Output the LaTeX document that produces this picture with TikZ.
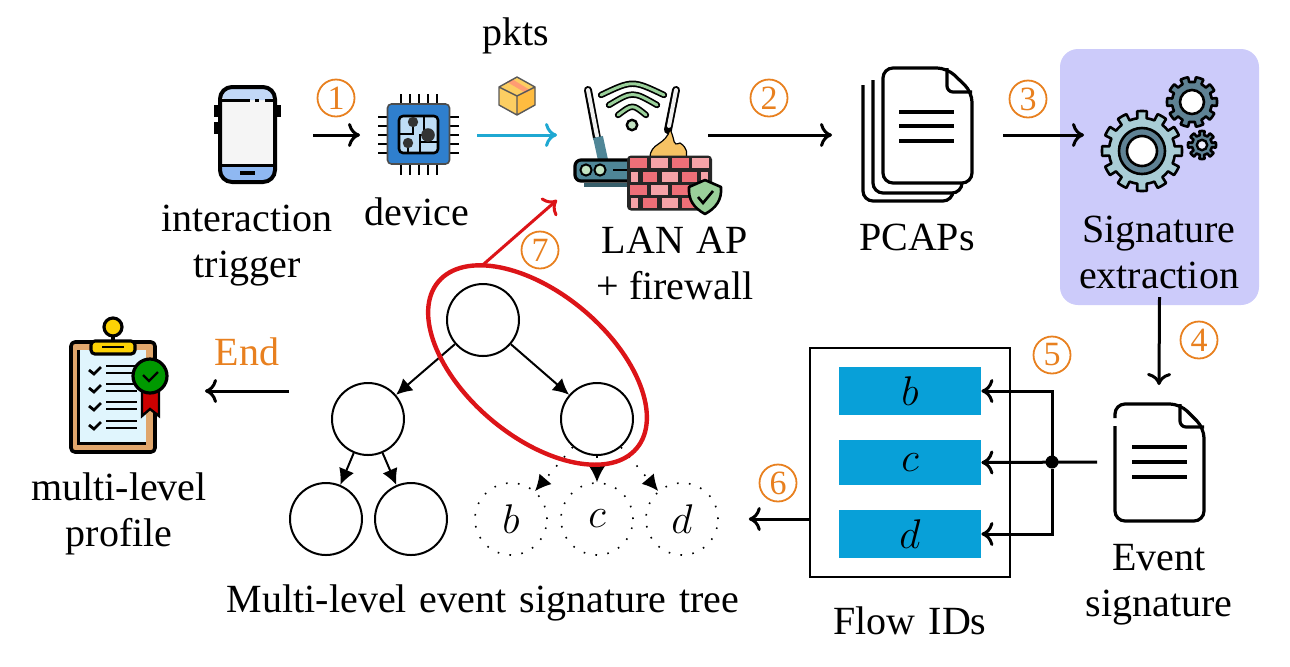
\documentclass[tikz,border=0pt]{standalone}
\usepackage{fontspec}
\setmainfont{Liberation Serif}
\usetikzlibrary{arrows.meta,shapes.geometric}
\definecolor{stepor}{HTML}{E8801F}
\definecolor{pktblue}{HTML}{1FA8D2}
\definecolor{barblue}{HTML}{08A0D8}
\definecolor{lilac}{HTML}{CCCBFA}
\definecolor{hopred}{HTML}{DC1418}
\definecolor{teal}{HTML}{4F8697}
\definecolor{gearpale}{HTML}{A9CDD6}
\definecolor{geardark}{HTML}{5F8294}
\definecolor{phonetop}{HTML}{C2D8F7}
\definecolor{phonelow}{HTML}{8FB8F2}
\definecolor{chipblue}{HTML}{2F7FCE}
\definecolor{chiplite}{HTML}{BFDDF5}
\definecolor{brickred}{HTML}{EE6F78}
\definecolor{brickpink}{HTML}{F5A3A8}
\definecolor{wifigreen}{HTML}{9AD09A}
\definecolor{flame}{HTML}{F6C264}
\begin{document}
\begin{tikzpicture}[x=0.5pt,y=-0.5pt,
    lbl/.style={font=\fontsize{20}{23}\selectfont,align=center,inner sep=0pt},
    num/.style={circle,draw=stepor,text=stepor,line width=0.9pt,minimum size=18.5pt,inner sep=0pt,font=\fontsize{17}{17}\selectfont},
    flow/.style={line width=1.5pt,-{Computer Modern Rightarrow[length=6pt,width=12pt]}},
    tree/.style={circle,draw,line width=1pt,minimum size=36pt,inner sep=0pt},
    sparse/.style={circle,draw,line width=0.8pt,dash pattern=on 0.8pt off 5.2pt,minimum size=36pt,inner sep=0pt,font=\fontsize{22}{22}\selectfont},
    edge/.style={line width=1pt,-{Latex[length=8pt,width=8pt]}},
    bar/.style={fill=barblue,minimum width=71pt,inner sep=0pt,font=\fontsize{22}{22}\selectfont},
    icon/.style={line width=1.6pt,line join=round},
    blank/.style={inner sep=0pt,outer sep=0pt}]
  \useasboundingbox (0,0) rectangle (1290,666);
  % signature box goes first, it lies below the gears
  \node[fill=lilac,rounded corners=9pt,minimum width=99.5pt,minimum height=128pt,blank] (sigbox) at (1159.5,177) {};

  % phone
  \fill[gray!8,rounded corners=4pt] (220,88) rectangle (275,182);
  \fill[phonetop,rounded corners=4pt] (220,88) rectangle (275,100);
  \fill[phonelow,rounded corners=4pt] (220,165) rectangle (275,182);
  \draw[line width=3pt] (217,105) -- (217,117) (217,122) -- (217,134) (278,105) -- (278,117);
  \draw[line width=2pt,rounded corners=6pt] (220,87) rectangle (275,182);
  \draw[line width=1.5pt] (221,100) -- (250,100) (255,100) -- (259,100) (265,100) -- (274,100) (221,165) -- (274,165);
  \draw[line width=2pt] (240,173) -- (255,173);
  \node[blank,minimum width=66pt,minimum height=48pt] (phone) at (247,135) {};

  % chip
  \foreach \p in {-18,-9,0,9,18} {
    \draw[line width=1pt] (418.5+\p,94) -- (418.5+\p,175);
    \draw[line width=1pt] (378,135+\p) -- (459,135+\p);
  }
  \node[draw=black!70,fill=chipblue,rounded corners=2pt,line width=0.8pt,minimum width=31pt,minimum height=30pt,blank] (chip) at (418.5,134) {};
  \draw[icon,line width=1.3pt,fill=chiplite,rounded corners=2pt] (399,116) rectangle (438,153);
  \draw[line width=0.9pt] (413,122) -- (413,134) -- (399,134) (424,116) -- (424,135) -- (428,135) (438,142) -- (420,142) -- (420,153) (408,143) -- (408,153) (424,135) -- (420,135) -- (420,142);
  \foreach \a/\b/\c in {413/122/2.6pt,428/135/3.4pt,408/143/2.6pt} \fill[black!80] (\a,\b) circle (\c);
  \node[blank,minimum width=58.5pt,minimum height=40pt] (chipport) at (418.5,135) {};

  % parcel
  \fill[yellow!40!orange!60] (517,77) -- (535,87) -- (535,105) -- (517,115) -- (499,105) -- (499,87) -- cycle;
  \fill[orange!70!yellow!75] (517,96) -- (535,87) -- (535,105) -- (517,115) -- cycle;
  \fill[red!40!orange!55] (507,82) -- (526,93) -- (530,90) -- (512,79) -- cycle;
  \draw[line width=0.7pt,black!65,line join=round] (517,77) -- (535,87) -- (535,105) -- (517,115) -- (499,105) -- (499,87) -- cycle (499,87) -- (517,96) -- (535,87) (517,96) -- (517,115);
  \node[blank,minimum width=18pt,minimum height=19pt] (parcel) at (517,96) {};

  % router with wifi, fire and wall
  \draw[line width=4pt,line cap=round] (588,90) -- (597,138) (676,90) -- (668,130);
  \draw[line width=2pt,gray!12,line cap=round] (588,90) -- (597,136) (676,90) -- (669,126);
  \draw[teal,line width=5pt] (598,137) -- (603,160);
  \foreach \u/\v/\w/\t in {601/664/95/80,609/657/105/91,618/646/115/104} {
    \draw[line width=3.2pt,line cap=round] (\u,\w) .. controls (632.5,\t) .. (\v,\w);
    \draw[line width=1.5pt,wifigreen,line cap=round] (\u,\w) .. controls (632.5,\t) .. (\v,\w);
  }
  \draw[line width=1.2pt,fill=wifigreen!60] (632,125) circle (2.6pt);
  \draw[icon,fill=teal,rounded corners=3pt] (575,160) rectangle (640,181);
  \draw[icon,teal!70!black] (584,185) -- (630,185);
  \draw[line width=1pt,fill=wifigreen!60] (586,170) circle (2.8pt);
  \draw[line width=1pt,fill=wifigreen!60] (600,170) circle (2.8pt);
  \draw[line width=1.4pt] (613,170) -- (632,170);
  \draw[line width=0.6pt,fill=flame] (650,158) .. controls (650,142) and (666,146) .. (670,129) .. controls (676,142) and (672,146) .. (680,143) .. controls (688,148) and (687,154) .. (686,158) -- cycle;
  \node[fill=black!85,rounded corners=2pt,blank,minimum width=42.5pt,minimum height=27.5pt] (wall) at (669.5,183) {};
  \foreach \y in {158,185} {
    \foreach \u/\v/\c in {630/647/brickred,651/668/brickpink,672/689/brickred,692/709/brickpink}
      \fill[\c] (\u,\y) rectangle (\v,\y+10);
  }
  \foreach \y in {172,198} {
    \foreach \u/\v/\c in {631/638/brickpink,643/657/brickred,662/678/brickpink,682/697/brickred,701/708/brickpink}
      \fill[\c] (\u,\y) rectangle (\v,\y+10);
  }
  \draw[line width=1.3pt,fill=wifigreen,line join=round] (705,180) -- (721,187) .. controls (722,200) and (716,208) .. (705,214) .. controls (694,208) and (688,200) .. (689,187) -- cycle;
  \draw[line width=1.3pt] (698,197) -- (703,203) -- (713,191);
  \node[blank,minimum width=75.5pt,minimum height=30pt] (router) at (632.5,135) {};

  % pcap sheets
  \draw[icon,rounded corners=5pt,fill=white] (863,85) -- (863,201) -- (953,201) -- (953,100);
  \draw[icon,rounded corners=5pt,fill=white] (873,80) -- (873,193) -- (962,193) -- (962,100);
  \draw[icon,rounded corners=5pt,fill=white] (883,68) -- (883,183) -- (972,183) -- (972,92) -- (947,68) -- cycle;
  \draw[icon,rounded corners=3pt] (947,68) -- (947,92) -- (972,92);
  \foreach \y in {112,126,141} \draw[line width=1.6pt] (899,\y) -- (954,\y);
  \node[blank,minimum width=85.5pt,minimum height=67pt] (pcap) at (917.5,135) {};

  % gears
  \foreach \cx/\cy/\ro/\dd/\cc/\nn in {1142/151/40/7/gearpale/30,1192/102/25/5/geardark/36,1202/145/14/4/geardark/45} {
    \draw[line width=1.3pt,fill=\cc,line join=round] plot[samples=361,domain=0:360,variable=\t] ({\cx+(\ro-\dd*(mod(\t+\nn/4,\nn)>\nn/2))*cos(\t)},{\cy+(\ro-\dd*(mod(\t+\nn/4,\nn)>\nn/2))*sin(\t)}) -- cycle;
  }
  \draw[line width=1.3pt,fill=geardark] (1142,151) circle (11.5pt);
  \draw[line width=1.3pt,fill=white] (1142,151) circle (7.5pt);
  \draw[line width=1.3pt,fill=white] (1192,102) circle (6pt);
  \draw[line width=1.2pt,fill=white!70!lilac] (1202,145) circle (2.6pt);
  \node[blank,minimum width=75pt,minimum height=19pt] (gears) at (1159,135) {};

  % event signature sheet
  \draw[icon,rounded corners=5pt] (1115,426) -- (1115,521) -- (1204,521) -- (1204,428) -- (1180,404) -- (1115,404) -- (1115,418);
  \draw[icon,rounded corners=3pt] (1180,404) -- (1180,427) -- (1204,427);
  \foreach \y in {447,462,477} \draw[line width=1.6pt] (1132,\y) -- (1187,\y);
  \node[blank,minimum width=18pt,minimum height=55pt] (evdoc) at (1115,462) {};
  \coordinate (evtop) at (1159,385);

  % clipboard
  \draw[icon,line width=1.8pt,fill=brown!70!orange!70,rounded corners=2pt] (71,342) rectangle (155,452);
  \fill[cyan!12] (78,350) rectangle (146,443);
  \draw[line width=1.5pt] (78,350) -- (78,443) -- (146,443);
  \draw[icon,fill=yellow!70!orange,rounded corners=2pt] (91,341) rectangle (135,354);
  \draw[line width=1.2pt] (102,347) -- (124,347);
  \draw[icon,fill=yellow!70!orange] (113,327) circle (4.5pt);
  \draw[line width=2pt] (113,335) -- (113,342);
  \foreach \y in {370,388,406,425} {
    \draw[line width=1.4pt] (89,\y) -- (94,\y+4) -- (101,\y-3);
    \draw[line width=1.3pt] (106,\y-4) -- (137,\y-4) (106,\y+3) -- (137,\y+3);
  }
  \draw[line width=1.2pt,fill=red!80!black] (142,390) -- (142,416) -- (150,409) -- (159,416) -- (159,390) -- cycle;
  \draw[icon,fill=green!60!black] (150,376) circle (8.5pt);
  \draw[line width=1.2pt] (143,375) -- (149,381) -- (158,372);
  \node[blank,minimum width=92pt,minimum height=55pt] (board) at (113,391) {};
  \coordinate (endtail) at (289,391);

  % texts
  \node[lbl] (trigger) at (247,246) {interaction\\trigger};
  \node[lbl] (device) at (417,212) {device};
  \node[lbl] (pkts) at (516,36) {pkts};
  \node[lbl] (lan) at (675,263) {\spaceskip=6.5pt LAN AP\\+ firewall};
  \node[lbl] (pcaps) at (917,237) {PCAPs};
  \node[lbl] (sigtext) at (1159,252) {Signature\\extraction};
  \node[lbl] (evtext) at (1159,585) {Event\\signature};
  \node[lbl] (flowtext) at (910,621) {\spaceskip=6.5pt Flow IDs};
  \node[lbl] (treetext) at (483,603) {\spaceskip=6.5pt Multi-level event signature tree};
  \node[lbl] (profile) at (119,514) {multi-level\\profile};
  \node[lbl,text=stepor] (endtext) at (247,352) {End};

  % step numbers
  \node[num] (n1) at (336,98) {1};
  \node[num] (n2) at (769,98) {2};
  \node[num] (n3) at (1028,99) {3};
  \node[num] (n4) at (1199,340) {4};
  \node[num] (n5) at (1052,355) {5};
  \node[num] (n6) at (778,483) {6};
  \node[num] (n7) at (540,250) {7};

  % tree
  \node[tree] (root) at (483,320) {};
  \node[tree] (left) at (368,419) {};
  \node[tree] (right) at (597,419) {};
  \node[tree] (ll) at (326,519) {};
  \node[tree] (lr) at (411,519) {};
  \node[sparse] (tb) at (511,519) {$b$};
  \node[sparse] (tc) at (597,519) {$c$};
  \node[sparse] (td) at (682,519) {$d$};
  \draw[edge] (root) -- (left);
  \draw[edge] (root) -- (right);
  \draw[edge] (left) -- (ll);
  \draw[edge] (left) -- (lr);
  \draw[edge,line width=0.8pt,dash pattern=on 0.8pt off 5.2pt] (right) -- (tb);
  \draw[edge,line width=0.8pt,dash pattern=on 0.8pt off 5.2pt] (right) -- (tc);
  \draw[edge,line width=0.8pt,dash pattern=on 0.8pt off 5.2pt] (right) -- (td);
  \node[ellipse,draw=hopred,line width=2.2pt,rotate=-40,minimum width=129.5pt,minimum height=71.6pt,blank] (group) at (537.5,365) {};
  \coordinate (hoptip) at (557,200);
  \draw[flow,draw=hopred] (group.159) -- (hoptip);

  % flow id table
  \node[draw,line width=1pt,minimum width=100pt,minimum height=114.5pt,blank] (flowbox) at (910,462.5) {};
  \node[bar,minimum height=24pt] (bb) at (910,391) {$b$};
  \node[bar,minimum height=22.5pt] (bc) at (910,462.5) {$c$};
  \node[bar,minimum height=24pt] (bd) at (910,534) {$d$};
  \node[circle,fill=black,minimum size=6.5pt,blank] (hub) at (1052,462) {};

  % connectors
  \draw[flow] (phone.east) -- (chipport.west);
  \draw[flow,draw=pktblue] (chipport.east) -- (router.west);
  \draw[flow] (router.east) -- (pcap.west);
  \draw[flow] (pcap.east) -- (gears.west);
  \draw[flow] ([yshift=4pt]sigbox.south) -- (evtop);
  \draw[flow] (evdoc.west) -- (bc.east);
  \draw[flow] (hub) |- (bb.east);
  \draw[flow] (hub) |- (bd.east);
  \draw[flow] (flowbox.west |- td) -- ([xshift=15pt]td.east);
  \draw[flow] (endtail) -- (board.east);
\end{tikzpicture}
\end{document}
